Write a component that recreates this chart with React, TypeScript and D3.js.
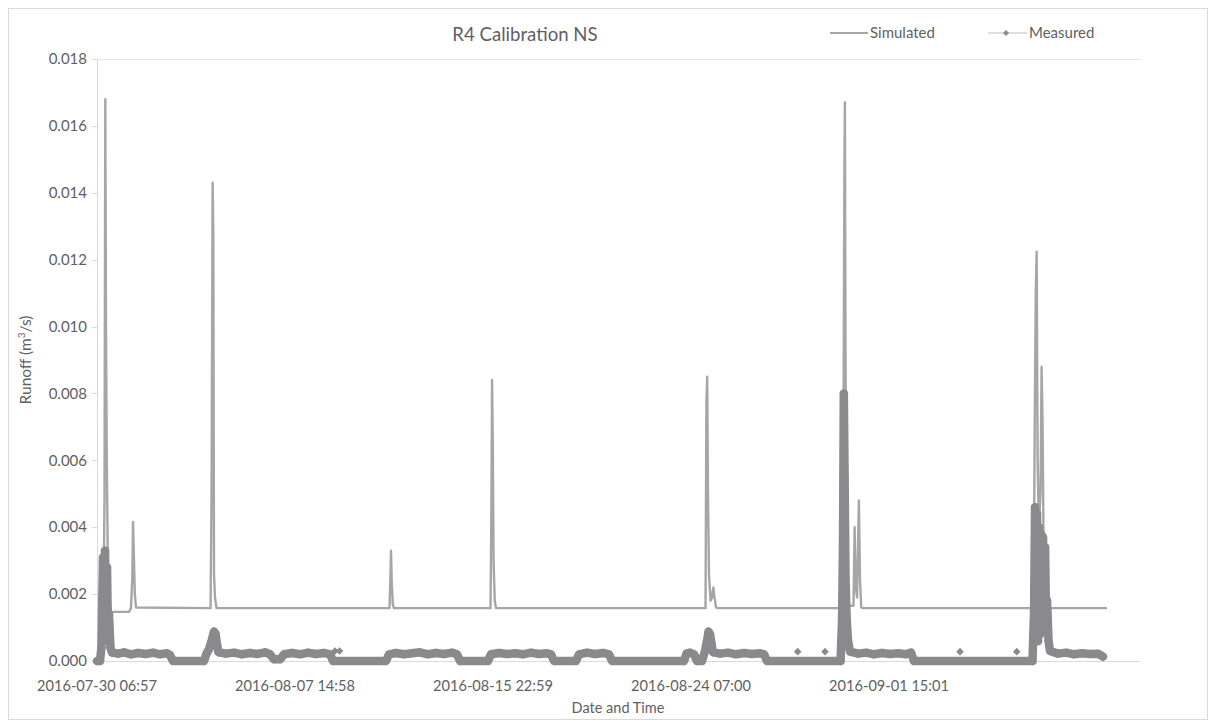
import React from "react";
import * as d3 from "d3";

// Time axis: first record, axis end and labelled category stamps
const startStamp = "2016-07-30 06:57";
const endStamp = "2016-09-12 04:33";
const tickStamps = [
  "2016-07-30 06:57",
  "2016-08-07 14:58",
  "2016-08-15 22:59",
  "2016-08-24 07:00",
  "2016-09-01 15:01",
];
const runoffTicks = [0, 0.002, 0.004, 0.006, 0.008, 0.01, 0.012, 0.014, 0.016, 0.018];

// Simulated runoff (m³/s), hours elapsed since the first record
const simulatedHours = [
  1.0, 6.1, 7.6, 8.4, 9.1, 9.9, 10.9, 12.1, 14.1, 32.3, 34.3, 35.7, 36.4, 37.2, 38.2, 39.4,
  114.7, 115.7, 116.8, 117.5, 118.2, 119.2, 120.7,
  295.5, 296.5, 297.0, 297.7, 298.8, 300.0,
  397.5, 398.4, 399.1, 399.8, 400.6, 401.8, 403.1,
  614.7, 615.6, 616.4, 617.2, 618.2, 619.8, 621.3, 622.6, 623.8, 625.3, 626.8,
  753.6, 754.4, 755.0, 755.5, 756.1, 756.9, 758.1, 759.7, 764.2, 765.3, 766.5, 767.8, 769.6, 770.8, 772.0, 773.3,
  946.1, 947.3, 948.3, 949.2, 950.2, 951.4, 953.1, 954.2, 955.2, 956.2, 957.7, 959.7, 961.7, 1020.3,
];
const simulatedRunoff = [
  0.0, 0.0003, 0.005, 0.0168, 0.0099, 0.006, 0.003, 0.0018, 0.00147, 0.00147, 0.00158, 0.0025, 0.00416, 0.0032, 0.002, 0.0016,
  0.00158, 0.0049, 0.0143, 0.0128, 0.0026, 0.0019, 0.00158,
  0.00158, 0.0026, 0.0033, 0.0024, 0.0017, 0.00158,
  0.00158, 0.0045, 0.0084, 0.0065, 0.003, 0.0018, 0.00158,
  0.00158, 0.0077, 0.0085, 0.005, 0.0026, 0.0018, 0.0019, 0.0022, 0.0019, 0.0016, 0.00158,
  0.00158, 0.0095, 0.0146, 0.0167, 0.0095, 0.004, 0.002, 0.00165, 0.00165, 0.004, 0.0022, 0.0019, 0.0048, 0.0024, 0.0016, 0.00158,
  0.00158, 0.0071, 0.011, 0.01224, 0.006, 0.004, 0.005, 0.0088, 0.0071, 0.0035, 0.002, 0.0016, 0.00158, 0.00158,
];

// Measured runoff (m³/s), continuous logger record
const measuredHours = [
  0, 3.0, 4.5, 6.1, 7.1, 8.1, 9.1, 10.1, 11.1, 12.1, 13.6, 15.2, 21.2, 27.3, 34.3, 41.4, 49.5, 56.6, 63.6, 70.7, 73.7, 76.8,
  108.1, 110.6, 113.1, 115.7, 118.2, 119.7, 121.2, 122.7, 130.3, 138.4, 146.5, 154.6, 162.6, 169.7, 174.8, 178.8, 184.9,
  188.9, 197.0, 205.1, 213.2, 221.2, 229.3, 235.4, 238.4,
  291.9, 295.0, 302.0, 310.1, 318.2, 326.3, 334.4, 342.5, 350.5, 358.6, 363.7, 366.7,
  395.0, 398.0, 406.1, 414.2, 422.3, 430.3, 438.4, 446.5, 454.6, 458.6, 461.7,
  483.9, 486.9, 495.0, 503.1, 511.2, 517.2, 520.3,
  593.0, 595.5, 599.1, 603.1, 606.1, 611.2, 614.2, 616.2, 617.8, 619.3, 620.8, 622.3, 629.4, 637.5, 645.5, 653.6, 661.7,
  669.8, 673.8, 676.8,
  751.1, 752.6, 753.6, 754.4, 755.2, 756.1, 757.1, 758.6, 760.7, 768.8, 776.9, 784.9, 793.0, 801.1, 809.2, 817.3, 822.3, 825.3,
  945.0, 946.6, 947.6, 948.6, 949.6, 950.6, 951.6, 952.6, 953.6, 954.6, 955.6, 956.7, 957.7, 958.7, 959.7, 961.2, 962.7,
  970.8, 978.9, 987.0, 995.0, 1003.1, 1011.2, 1016.2,
];
const measuredRunoff = [
  0, 0, 0.0004, 0.0031, 0.0006, 0.0033, 0.001, 0.0028, 0.0008, 0.0014, 0.0004, 0.00025, 0.00022, 0.00026, 0.0002, 0.00024, 0.00021, 0.00025, 0.0002, 0.00023, 0.00018, 0,
  0, 0.00022, 0.00035, 0.0006, 0.00088, 0.00082, 0.0005, 0.00026, 0.00022, 0.00025, 0.0002, 0.00024, 0.00021, 0.00026, 0.0002, 0.00005, 0.00005,
  0.0002, 0.00024, 0.0002, 0.00025, 0.00021, 0.00024, 0.0002, 0,
  0, 0.0002, 0.00024, 0.0002, 0.00023, 0.00026, 0.0002, 0.00024, 0.00021, 0.00025, 0.0002, 0,
  0, 0.0002, 0.00024, 0.00021, 0.00023, 0.0002, 0.00025, 0.00021, 0.00023, 0.0002, 0,
  0, 0.0002, 0.00025, 0.00021, 0.00024, 0.0002, 0,
  0, 0.00022, 0.00025, 0.0002, 0, 0, 0.0003, 0.0006, 0.00088, 0.0008, 0.0005, 0.00026, 0.00022, 0.00025, 0.0002, 0.00024, 0.00021,
  0.00023, 0.0002, 0,
  0, 0.0012, 0.0035, 0.008, 0.0055, 0.0025, 0.0014, 0.0006, 0.00028, 0.00022, 0.00025, 0.0002, 0.00024, 0.00021, 0.00023, 0.0002, 0.00025, 0,
  0, 0.0015, 0.0046, 0.0008, 0.0044, 0.0006, 0.004, 0.0008, 0.0038, 0.0009, 0.0037, 0.001, 0.0034, 0.0012, 0.0018, 0.0006, 0.0003,
  0.00022, 0.00025, 0.0002, 0.00023, 0.00021, 0.00022, 0.00013,
];

// Scattered single measured readings
const sparseHours = [240.4, 245.0, 707.8, 735.4, 871.8, 929.1];
const sparseRunoff = [0.0003, 0.0003, 0.00028, 0.00028, 0.00028, 0.00028];

const W = 1200;
const H = 712;
const plot = { left: 89, right: 1132, top: 51, bottom: 653 };
const FONT = "Lato, 'Open Sans', 'DejaVu Sans', sans-serif";
const TEXT = "#5f5f5f";
const AXIS = "#d9d9d9";
const SIM = "#a6a6a6";
const MEAS = "#8a8a8c";

const diamond = (cx: number, cy: number, r: number) =>
  `M${cx},${cy - r}L${cx + r},${cy}L${cx},${cy + r}L${cx - r},${cy}Z`;

export default function App() {
  const parse = d3.timeParse("%Y-%m-%d %H:%M");
  const fmt = d3.timeFormat("%Y-%m-%d %H:%M");
  const t0 = parse(startStamp) as Date;
  const at = (h: number) => new Date(t0.getTime() + h * 3600000);

  const x = d3.scaleTime().domain([t0, parse(endStamp) as Date]).range([plot.left, plot.right]);
  const y = d3.scaleLinear().domain([0, 0.018]).range([plot.bottom, plot.top]);

  const sim = simulatedHours.map((h, i) => ({ t: at(h), v: simulatedRunoff[i] }));
  const meas = measuredHours.map((h, i) => ({ t: at(h), v: measuredRunoff[i] }));
  const sparse = sparseHours.map((h, i) => ({ t: at(h), v: sparseRunoff[i] }));

  const line = d3
    .line<{ t: Date; v: number }>()
    .x((d) => x(d.t))
    .y((d) => y(d.v));

  const ticks = tickStamps.map((s) => parse(s) as Date);

  return (
    <svg width={W} height={H} style={{ display: "block" }} fontFamily={FONT}>
      <rect x={0.5} y={0.5} width={W - 1} height={H - 1} fill="#fff" stroke={AXIS} />

      <text x={517} y={33} textAnchor="middle" fontSize={18.6} fill={TEXT}>
        R4 Calibration NS
      </text>

      {/* legend */}
      <line x1={822} x2={860} y1={25} y2={25} stroke={SIM} strokeWidth={2} />
      <text x={862} y={25} dy="0.35em" fontSize={15} fill={TEXT}>
        Simulated
      </text>
      <line x1={980} x2={1019} y1={25} y2={25} stroke="#bfbfbf" strokeWidth={1} />
      <path d={diamond(998, 25, 3)} fill={MEAS} />
      <text x={1021} y={25} dy="0.35em" fontSize={15} fill={TEXT}>
        Measured
      </text>

      {/* plot frame and axes */}
      <line x1={plot.left} x2={plot.right} y1={plot.top + 0.5} y2={plot.top + 0.5} stroke="#e6e6e6" />
      <line x1={plot.left + 0.5} x2={plot.left + 0.5} y1={plot.top} y2={plot.bottom} stroke={AXIS} />
      <line x1={plot.left} x2={plot.right} y1={plot.bottom + 0.5} y2={plot.bottom + 0.5} stroke={AXIS} />

      {runoffTicks.map((v) => (
        <g key={v}>
          <line x1={plot.left - 5} x2={plot.left} y1={Math.round(y(v)) + 0.5} y2={Math.round(y(v)) + 0.5} stroke={AXIS} />
          <text x={plot.left - 10} y={y(v)} dy="0.35em" textAnchor="end" fontSize={15} fill={TEXT}>
            {v.toFixed(3)}
          </text>
        </g>
      ))}

      {ticks.map((t) => (
        <text key={+t} x={x(t)} y={plot.bottom + 25} dy="0.35em" textAnchor="middle" fontSize={14.6} fill={TEXT}>
          {fmt(t)}
        </text>
      ))}

      <text x={610} y={705} textAnchor="middle" fontSize={14.5} fill={TEXT}>
        Date and Time
      </text>
      <text transform={`translate(23,352) rotate(-90)`} textAnchor="middle" fontSize={15.5} fill={TEXT}>
        Runoff (m<tspan dy={-6} fontSize={10}>3</tspan>
        <tspan dy={6}>/s)</tspan>
      </text>

      {/* simulated series */}
      <path d={line(sim) || ""} fill="none" stroke={SIM} strokeWidth={2.4} strokeLinejoin="round" />

      {/* measured series: dense diamond markers */}
      <path
        d={line(meas) || ""}
        fill="none"
        stroke={MEAS}
        strokeWidth={8.5}
        strokeLinejoin="round"
        strokeLinecap="round"
      />
      {meas.map((d, i) => (
        <path key={i} d={diamond(x(d.t), y(d.v), 4.5)} fill={MEAS} />
      ))}
      {sparse.map((d, i) => (
        <path key={"s" + i} d={diamond(x(d.t), y(d.v), 3.8)} fill={MEAS} />
      ))}
    </svg>
  );
}
